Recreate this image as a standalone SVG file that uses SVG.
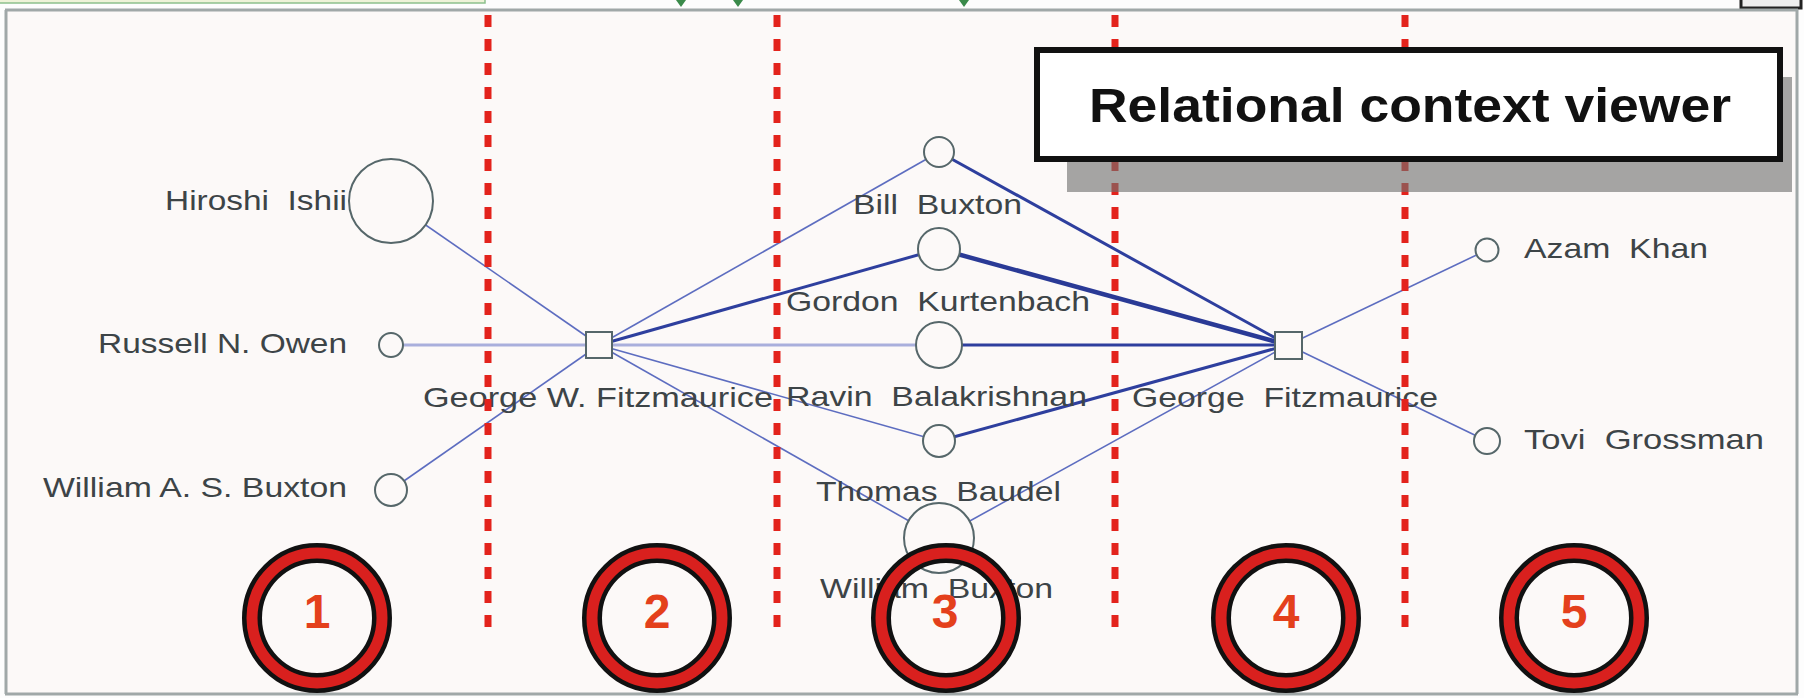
<svg xmlns="http://www.w3.org/2000/svg" width="1804" height="698" viewBox="0 0 1804 698">
<style>
.lbl{font-family:"Liberation Sans",Arial,sans-serif;font-size:28px;fill:#3d4447;white-space:pre}
.num{font-family:"Liberation Sans",Arial,sans-serif;font-size:48px;font-weight:bold;fill:#e4401c;text-anchor:middle}
.title{font-family:"Liberation Sans",Arial,sans-serif;font-size:48px;font-weight:bold;fill:#111}
.node{fill:#fcf9f8;stroke:#56676a;stroke-width:2}
.e-thin{stroke:#5d6dc0;stroke-width:1.6;fill:none}
.e-light{stroke:#a9afdc;stroke-width:3;fill:none}
.e-dark{stroke:#2e3f9e;stroke-width:3;fill:none}
.e-heavy{stroke:#2a3a96;stroke-width:4.5;fill:none}
.div{stroke:#e3231c;stroke-width:7;stroke-dasharray:12 12;fill:none}
.ring-b{fill:none;stroke:#111;stroke-width:20}
.ring-r{fill:none;stroke:#d9201e;stroke-width:11}
.frame{stroke:#a0a8a8;stroke-width:3;fill:none}
</style>
<rect x="0" y="0" width="1804" height="698" fill="#fdfdfd"/>
<rect x="6" y="10" width="1791" height="684" fill="#fcf9f8"/>
<g id="toolbar">
<rect x="-2" y="-4" width="487" height="7" fill="#eef3d8" stroke="#8cc08c" stroke-width="1.5"/>
<polygon points="676,0 686,0 681,7" fill="#3a8a4a"/>
<polygon points="733,0 743,0 738,7" fill="#3a8a4a"/>
<polygon points="959,0 969,0 964,7" fill="#3a8a4a"/>
<rect x="1741" y="-4" width="60" height="12" fill="#eee" stroke="#222" stroke-width="3"/>
</g>
<g id="frame">
<line class="frame" x1="5" y1="10" x2="1798" y2="10" stroke-width="2"/>
<line class="frame" x1="6" y1="10" x2="6" y2="694"/>
<line class="frame" x1="1797" y1="10" x2="1797" y2="694"/>
<line class="frame" x1="5" y1="694" x2="1798" y2="694"/>
</g>
<g id="connectors">
<line class="e-thin" x1="599" y1="345" x2="391" y2="201"/>
<line class="e-light" x1="599" y1="345" x2="391" y2="345"/>
<line class="e-thin" x1="599" y1="345" x2="391" y2="490"/>
<line class="e-thin" x1="599" y1="345" x2="939" y2="152"/>
<line class="e-dark" x1="599" y1="345" x2="939" y2="249" stroke-width="3.5"/>
<line class="e-light" x1="599" y1="345" x2="939" y2="345"/>
<line class="e-thin" x1="599" y1="345" x2="939" y2="441" stroke-width="2"/>
<line class="e-thin" x1="599" y1="345" x2="939" y2="538"/>
<line class="e-dark" x1="1288" y1="345" x2="939" y2="152"/>
<line class="e-heavy" x1="1288" y1="345" x2="939" y2="249"/>
<line class="e-dark" x1="1288" y1="345" x2="939" y2="345"/>
<line class="e-dark" x1="1288" y1="345" x2="939" y2="441"/>
<line class="e-thin" x1="1288" y1="345" x2="939" y2="538"/>
<line class="e-thin" x1="1288" y1="345" x2="1487" y2="250"/>
<line class="e-thin" x1="1288" y1="345" x2="1487" y2="441"/>
</g>
<g id="n-hiroshi"><circle class="node" cx="391" cy="201" r="42"/><text class="lbl" xml:space="preserve" x="165" y="210" textLength="182" lengthAdjust="spacingAndGlyphs">Hiroshi  Ishii</text></g>
<g id="n-russell"><circle class="node" cx="391" cy="345" r="12"/><text class="lbl" x="98" y="353" textLength="249" lengthAdjust="spacingAndGlyphs">Russell N. Owen</text></g>
<g id="n-wasb"><circle class="node" cx="391" cy="490" r="16"/><text class="lbl" x="43" y="497" textLength="304" lengthAdjust="spacingAndGlyphs">William A. S. Buxton</text></g>
<g id="n-gwf"><rect class="node" x="586" y="332" width="26" height="26"/><text class="lbl" x="423" y="407" textLength="350" lengthAdjust="spacingAndGlyphs">George W. Fitzmaurice</text></g>
<g id="n-bill"><circle class="node" cx="939" cy="152" r="15"/><text class="lbl" xml:space="preserve" x="853" y="214" textLength="169" lengthAdjust="spacingAndGlyphs">Bill  Buxton</text></g>
<g id="n-gordon"><circle class="node" cx="939" cy="249" r="21"/><text class="lbl" xml:space="preserve" x="786" y="311" textLength="304" lengthAdjust="spacingAndGlyphs">Gordon  Kurtenbach</text></g>
<g id="n-ravin"><circle class="node" cx="939" cy="345" r="23"/><text class="lbl" xml:space="preserve" x="786" y="406" textLength="301" lengthAdjust="spacingAndGlyphs">Ravin  Balakrishnan</text></g>
<g id="n-thomas"><circle class="node" cx="939" cy="441" r="16"/><text class="lbl" xml:space="preserve" x="816" y="501" textLength="245" lengthAdjust="spacingAndGlyphs">Thomas  Baudel</text></g>
<g id="n-wb"><circle class="node" cx="939" cy="538" r="35"/><text class="lbl" xml:space="preserve" x="820" y="598" textLength="233" lengthAdjust="spacingAndGlyphs">William  Buxton</text></g>
<g id="n-gf"><rect class="node" x="1275" y="332" width="27" height="27"/><text class="lbl" xml:space="preserve" x="1132" y="407" textLength="306" lengthAdjust="spacingAndGlyphs">George  Fitzmaurice</text></g>
<g id="n-azam"><circle class="node" cx="1487" cy="250" r="11.5"/><text class="lbl" xml:space="preserve" x="1524" y="258" textLength="184" lengthAdjust="spacingAndGlyphs">Azam  Khan</text></g>
<g id="n-tovi"><circle class="node" cx="1487" cy="441" r="13"/><text class="lbl" xml:space="preserve" x="1524" y="449" textLength="240" lengthAdjust="spacingAndGlyphs">Tovi  Grossman</text></g>
<g id="dividers">
<line class="div" x1="488" y1="15" x2="488" y2="632"/>
<line class="div" x1="777" y1="15" x2="777" y2="632"/>
<line class="div" x1="1115" y1="15" x2="1115" y2="632"/>
<line class="div" x1="1405" y1="15" x2="1405" y2="632"/>
</g>
<g id="title">
<rect x="1067" y="77" width="725" height="115" fill="#707070" fill-opacity="0.62"/>
<rect x="1037" y="50" width="743" height="109" fill="#ffffff" stroke="#111" stroke-width="6"/>
<text class="title" x="1089" y="122" textLength="642" lengthAdjust="spacingAndGlyphs">Relational context viewer</text>
</g>
<g id="region-1"><circle class="ring-b" cx="317" cy="618" r="65"/><circle class="ring-r" cx="317" cy="618" r="65"/><text class="num" x="317" y="628">1</text></g>
<g id="region-2"><circle class="ring-b" cx="657" cy="618" r="65"/><circle class="ring-r" cx="657" cy="618" r="65"/><text class="num" x="657" y="628">2</text></g>
<g id="region-3"><circle class="ring-b" cx="946" cy="618" r="65"/><circle class="ring-r" cx="946" cy="618" r="65"/><text class="num" x="945" y="628">3</text></g>
<g id="region-4"><circle class="ring-b" cx="1286" cy="618" r="65"/><circle class="ring-r" cx="1286" cy="618" r="65"/><text class="num" x="1286" y="628">4</text></g>
<g id="region-5"><circle class="ring-b" cx="1574" cy="618" r="65"/><circle class="ring-r" cx="1574" cy="618" r="65"/><text class="num" x="1574" y="628">5</text></g>
</svg>
